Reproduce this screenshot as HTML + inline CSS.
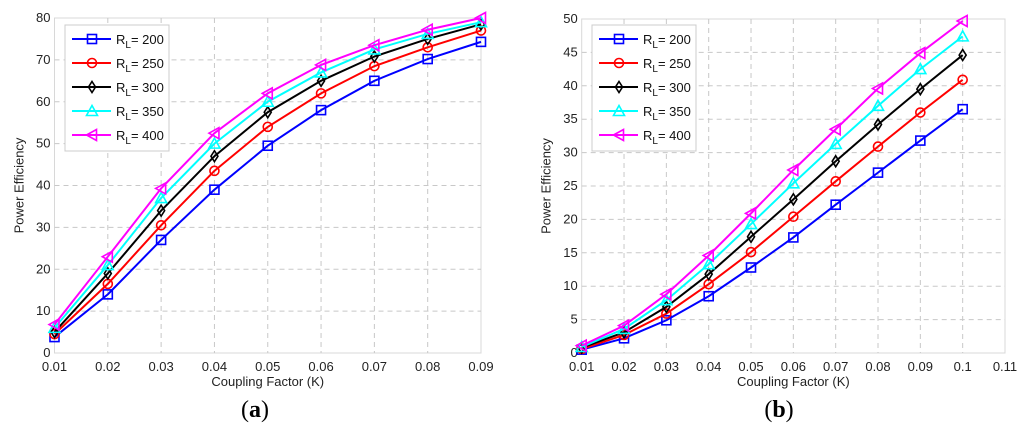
<!DOCTYPE html>
<html><head><meta charset="utf-8"><style>
body{margin:0;background:#fff;width:1024px;height:431px;overflow:hidden}
svg text{font-family:"Liberation Sans",sans-serif}
svg text.ttl{font-family:"Liberation Serif",serif}
</style></head><body>
<svg id="s" width="1024" height="431" xmlns="http://www.w3.org/2000/svg"></svg>
<script>
const labels=["R_L= 200","R_L= 250","R_L= 300","R_L= 350","R_L= 400"];
const colors=["#0000ff","#ff0000","#000000","#00ffff","#ff00ff"];
const markers=["square","circle","diamond","triUp","triLeft"];
const xA=[0.01,0.02,0.03,0.04,0.05,0.06,0.07,0.08,0.09];
const a200=[3.8,14,27,39,49.5,58,65,70.2,74.3];
const a250=[4.5,16.5,30.5,43.5,54,62,68.5,73,77];
const a300=[5,19,34,47,57.5,65,70.8,75,78.5];
const a350=[6,21,37,50,60,67,72.5,76.2,79];
const a400=[6.8,23,39.3,52.5,62,68.8,73.5,77.2,80];
const xB=[0.01,0.02,0.03,0.04,0.05,0.06,0.07,0.08,0.09,0.1];
const b200=[0.5,2.2,4.9,8.5,12.8,17.3,22.2,27,31.8,36.5];
const b250=[0.6,2.7,5.9,10.3,15.1,20.4,25.7,30.9,36,40.9];
const b300=[0.8,3.1,6.9,11.8,17.4,23,28.7,34.2,39.5,44.6];
const b350=[0.9,3.6,7.9,13.3,19.3,25.4,31.3,37,42.5,47.4];
const b400=[1.1,4.1,8.8,14.6,20.9,27.4,33.5,39.6,44.9,49.7];
const xTicksA=["0.01","0.02","0.03","0.04","0.05","0.06","0.07","0.08","0.09"];
const yTicksA=[0,10,20,30,40,50,60,70,80];
const xTicksB=["0.01","0.02","0.03","0.04","0.05","0.06","0.07","0.08","0.09","0.1","0.11"];
const yTicksB=[0,5,10,15,20,25,30,35,40,45,50];

const NS="http://www.w3.org/2000/svg";
const svg=document.getElementById('s');
function el(t,at,p){const e=document.createElementNS(NS,t);for(const k in at)e.setAttribute(k,at[k]);(p||svg).appendChild(e);return e;}
function marker(g,type,x,y,c){
  const s=4.5;let e;
  if(type==="square")e=el('rect',{x:x-s,y:y-s,width:2*s,height:2*s},g);
  else if(type==="circle")e=el('circle',{cx:x,cy:y,r:s},g);
  else if(type==="diamond")e=el('polygon',{points:`${x},${y-s-1} ${x+s-1},${y} ${x},${y+s+1} ${x-s+1},${y}`},g);
  else if(type==="triUp")e=el('polygon',{points:`${x},${y-s-1} ${x+s+1},${y+s} ${x-s-1},${y+s}`},g);
  else e=el('polygon',{points:`${x-s-1},${y} ${x+s},${y-s-1} ${x+s},${y+s+1}`},g);
  e.setAttribute('fill','none');e.setAttribute('stroke',c);e.setAttribute('stroke-width','1.6');
  
  
}
function chart(o){
  const g=el('g',{});
  
  
  const X=v=>o.x0+(v-o.xmin)/(o.xmax-o.xmin)*(o.x1-o.x0);
  const Y=v=>o.y0-(v-o.ymin)/(o.ymax-o.ymin)*(o.y0-o.y1);
  el('rect',{x:o.x0,y:o.y1,width:o.x1-o.x0,height:o.y0-o.y1,fill:'#fff',stroke:'#d8d8d8','stroke-width':1},g);
  o.xt.forEach(t=>{const x=X(parseFloat(t));
    if(x>o.x0+1&&x<o.x1-1)el('line',{x1:x,x2:x,y1:o.y1,y2:o.y0,stroke:'#c8c8c8','stroke-dasharray':'5,4'},g);
    const tx=el('text',{x:x,y:o.y0+18,'text-anchor':'middle','font-size':13,fill:'#222'},g);tx.textContent=t;
    });
  o.yt.forEach(t=>{const y=Y(t);
    if(y>o.y1+1&&y<o.y0-1)el('line',{x1:o.x0,x2:o.x1,y1:y,y2:y,stroke:'#c8c8c8','stroke-dasharray':'5,4'},g);
    const tx=el('text',{x:o.x0-4,y:y+4,'text-anchor':'end','font-size':13,fill:'#222'},g);tx.textContent=t;
    });
  o.series.forEach((d,i)=>{
    const sg=el('g',{},g);
    
    
    el('polyline',{points:d.map((v,j)=>X(o.xs[j])+','+Y(v)).join(' '),fill:'none',stroke:colors[i],'stroke-width':2},sg);
    d.forEach((v,j)=>marker(sg,markers[i],X(o.xs[j]),Y(v),colors[i]));
  });
  const xl=el('text',{x:(o.x0+o.xlEnd)/2,y:386,'text-anchor':'middle','font-size':13,fill:'#222'},g);xl.textContent='Coupling Factor (K)';
  
  const yl=el('text',{x:0,y:0,'text-anchor':'middle','font-size':13,fill:'#222',transform:`translate(${o.x0-31},${(o.y0+o.y1)/2}) rotate(-90)`},g);yl.textContent='Power Efficiency';
  
  const lg=el('g',{},g);
  
  
  const lx=o.lx;
  el('rect',{x:lx,y:25,width:104,height:126,fill:'#fff',stroke:'#ccc'},lg);
  labels.forEach((l,i)=>{const y=39+i*24;
    el('line',{x1:lx+7,x2:lx+46,y1:y,y2:y,stroke:colors[i],'stroke-width':2},lg);
    marker(lg,markers[i],lx+27,y,colors[i]);
    const t=el('text',{x:lx+51,y:y+5,'font-size':13,fill:'#111'},lg);
    t.innerHTML='R<tspan font-size="10" dy="4">L</tspan><tspan dy="-4">= '+l.split('= ')[1]+'</tspan>';
    
  });
  const ti=el('text',{x:o.tx,y:417,'text-anchor':'middle','font-size':24,fill:'#000','class':'ttl'},g);
  ti.innerHTML='(<tspan font-weight="bold">'+o.tl+'</tspan>)';
  
}
chart({name:'chart-a',x0:54.5,x1:481,y0:353,y1:18,xmin:0.01,xmax:0.09,ymin:0,ymax:80,xs:xA,
  series:[a200,a250,a300,a350,a400],xt:xTicksA,yt:yTicksA,lx:65,tx:255,tl:'a',xlEnd:481});
chart({name:'chart-b',x0:581.7,x1:1005,y0:353,y1:19,xmin:0.01,xmax:0.11,ymin:0,ymax:50,xs:xB,
  series:[b200,b250,b300,b350,b400],xt:xTicksB,yt:yTicksB,lx:592,tx:779,tl:'b',xlEnd:1005});
</script>
</body></html>
